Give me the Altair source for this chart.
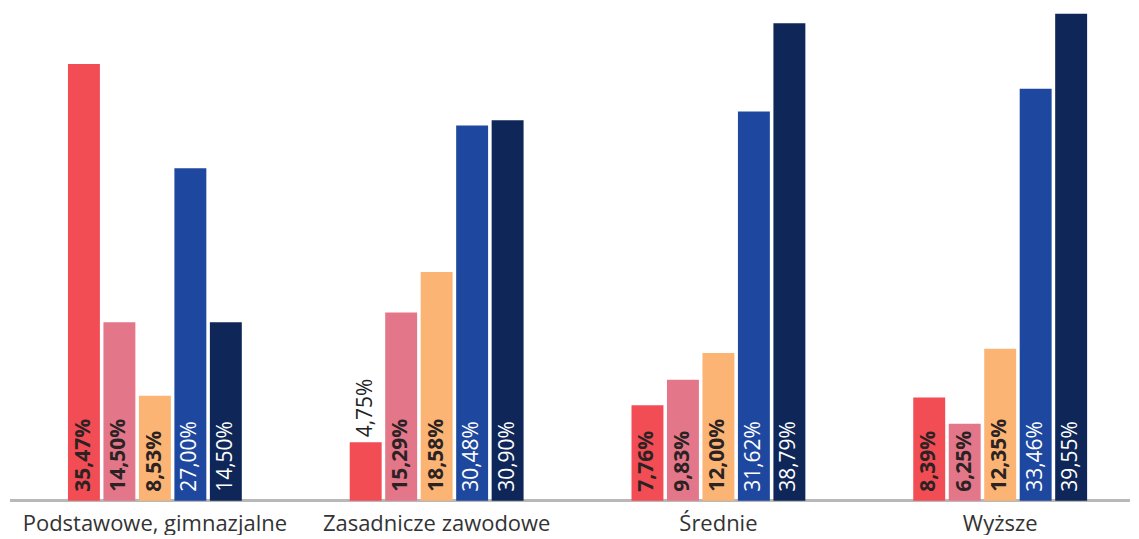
import altair as alt
import pandas as pd

groups = ["Podstawowe, gimnazjalne", "Zasadnicze zawodowe", "Średnie", "Wyższe"]
series = ["Seria 1", "Seria 2", "Seria 3", "Seria 4", "Seria 5"]
colors = ["#f24c54", "#e37789", "#fbb473", "#1e48a0", "#0e2658"]
light_series = ["Seria 1", "Seria 2", "Seria 3"]
dark_series = ["Seria 4", "Seria 5"]

s1 = [35.47, 4.75, 7.76, 8.39]
s2 = [14.50, 15.29, 9.83, 6.25]
s3 = [8.53, 18.58, 12.00, 12.35]
s4 = [27.00, 30.48, 31.62, 33.46]
s5 = [14.50, 30.90, 38.79, 39.55]

rows = []
for s, vals in zip(series, [s1, s2, s3, s4, s5]):
    for g, v in zip(groups, vals):
        rows.append({"grupa": g, "seria": s, "v": v})
df = pd.DataFrame(rows)

base = alt.Chart(df).transform_calculate(
    label="replace(format(datum.v, '.2f'), '.', ',') + '%'",
    zero="0",
)

x = alt.X(
    "grupa:N",
    sort=groups,
    scale=alt.Scale(paddingInner=0.383, paddingOuter=0.1825, align=0.583),
    axis=alt.Axis(
        title=None, domain=False, ticks=False, labelAngle=0,
        labelFont="Open Sans", labelFontSize=22, labelColor="#333333",
        labelPadding=13, labelLimit=0,
    ),
)
xo = alt.XOffset("seria:N", sort=series,
                 scale=alt.Scale(paddingInner=0.1, paddingOuter=0))
y = alt.Y("v:Q", scale=alt.Scale(domain=[0, 40], nice=False), axis=None)
y0 = alt.Y("zero:Q", scale=alt.Scale(domain=[0, 40], nice=False), axis=None)

baseline = base.mark_rule(color="#b8b8b8", strokeWidth=2).encode(
    x=alt.value(2), x2=alt.value(1123), y=y0
)

bars = base.mark_bar().encode(
    x=x, xOffset=xo, y=y,
    color=alt.Color("seria:N", sort=series,
                    scale=alt.Scale(domain=series, range=colors), legend=None),
)

big = alt.FieldGTEPredicate(field="v", gte=5)
light_filter = alt.FieldOneOfPredicate(field="seria", oneOf=light_series)
dark_filter = alt.FieldOneOfPredicate(field="seria", oneOf=dark_series)

txt_light = base.transform_filter(big).transform_filter(light_filter).mark_text(
    angle=270, align="left", baseline="middle", dx=9,
    font="Open Sans", fontSize=21, fontWeight="bold", color="#2b2224",
).encode(x=x, xOffset=xo, y=y0, text="label:N")

txt_dark = base.transform_filter(big).transform_filter(dark_filter).mark_text(
    angle=270, align="left", baseline="middle", dx=9,
    font="Open Sans", fontSize=21, fontWeight="normal", color="#ffffff",
).encode(x=x, xOffset=xo, y=y0, text="label:N")

txt_out = base.transform_filter(alt.FieldLTPredicate(field="v", lt=5)).mark_text(
    angle=270, align="left", baseline="middle", dx=5,
    font="Open Sans", fontSize=21, fontWeight="normal", color="#222222",
).encode(x=x, xOffset=xo, y=y, text="label:N")

chart = alt.layer(baseline, bars, txt_light, txt_dark, txt_out).properties(
    width=1123, height=493,
    padding={"left": 0, "top": 0, "right": 0, "bottom": 0},
).configure_view(stroke=None)

chart.save("out.html", embed_options={"renderer": "svg", "actions": False})
